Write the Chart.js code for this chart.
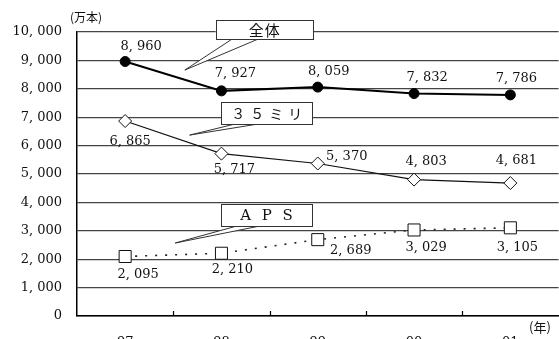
<!DOCTYPE html>
<html>
<head>
<meta charset="utf-8">
<script src="https://cdn.jsdelivr.net/npm/chart.js@4"></script>
<style>
  html, body { margin: 0; padding: 0; background: #fff; overflow: hidden; }
  #wrap { position: relative; width: 559px; height: 339px; overflow: hidden; }
</style>
</head>
<body>
<div id="wrap"><canvas id="chart" width="568" height="350"></canvas></div>
<script>
//<![CDATA[

let years = ['97', '98', '99', '00', '01'];
let totalValues = [8960, 7927, 8059, 7832, 7786];
let mm35Values = [6865, 5717, 5370, 4803, 4681];
let apsValues = [2095, 2210, 2689, 3029, 3105];
let yMin = 0;
let yMax = 10000;
let yStep = 1000;

let serif = '"DejaVu Serif", "Liberation Serif", serif';
let jp = '"Noto Sans CJK JP", sans-serif';

function fmt(v) {
    return v.toLocaleString('en-US').replace(',', ', ');
}

// where each value label sits, relative to its point
let labelOffsets = [
    [[16, -15], [14, -17], [11, -15], [13, -16], [6, -16]],
    [[5, 21], [13, 16], [29, -7], [12, -18], [6, -22]],
    [[13, 18], [11, 16], [33, 11], [12, 18], [7, 20]]
];

// callout boxes: box corners and tip in data units (category index, value)
let callouts = [
    { text: ['全', '体'], font: '15px ' + jp, gap: 16, x0: 0.94, x1: 1.95, y0: 10420, y1: 9750, b0: 1.11, b1: 1.38, tx: 0.62, ty: 8660 },
    { text: ['３', '５', 'ミ', 'リ'], font: '14px ' + jp, gap: 19, x0: 1.0, x1: 1.94, y0: 7535, y1: 6760, b0: 1.14, b1: 1.38, tx: 0.67, ty: 6370 },
    { text: ['A', 'P', 'S'], font: '15px ' + serif, gap: 21, x0: 1.0, x1: 1.94, y0: 3944, y1: 3169, b0: 1.16, b1: 1.40, tx: 0.52, ty: 2570 }
];

let extrasPlugin = {
    id: 'extras',
    afterDatasetsDraw(chart) {
        const ctx = chart.ctx;
        const xs = chart.scales.x;
        const ys = chart.scales.y;
        const area = chart.chartArea;

        // small ticks on the x axis between the years
        ctx.save();
        ctx.strokeStyle = '#000';
        ctx.lineWidth = 1.2;
        for (let i = 0; i < years.length - 1; i++) {
            let px = Math.round(xs.getPixelForValue(i + 0.5)) + 0.5;
            ctx.beginPath();
            ctx.moveTo(px, area.bottom);
            ctx.lineTo(px, area.bottom - 5);
            ctx.stroke();
        }
        ctx.restore();

        // value labels
        ctx.save();
        ctx.fillStyle = '#111';
        ctx.font = '13px ' + serif;
        ctx.textAlign = 'center';
        ctx.textBaseline = 'middle';
        chart.data.datasets.forEach(function(ds, d) {
            const meta = chart.getDatasetMeta(d);
            meta.data.forEach(function(pt, i) {
                const off = labelOffsets[d][i];
                ctx.fillText(fmt(ds.data[i]), pt.x + off[0], pt.y + off[1]);
            });
        });
        ctx.restore();

        // callouts
        callouts.forEach(function(c) {
            const l = xs.getPixelForValue(c.x0);
            const r = xs.getPixelForValue(c.x1);
            const t = ys.getPixelForValue(c.y0);
            const b = ys.getPixelForValue(c.y1);
            const tipX = xs.getPixelForValue(c.tx);
            const tipY = ys.getPixelForValue(c.ty);
            const b0 = xs.getPixelForValue(c.b0);
            const b1 = xs.getPixelForValue(c.b1);
            ctx.save();
            ctx.fillStyle = '#fff';
            ctx.strokeStyle = '#333';
            ctx.lineWidth = 1;
            ctx.beginPath();
            ctx.moveTo(b0, b);
            ctx.lineTo(tipX, tipY);
            ctx.lineTo(b1, b);
            ctx.closePath();
            ctx.fill();
            ctx.beginPath();
            ctx.moveTo(b0, b);
            ctx.lineTo(tipX, tipY);
            ctx.lineTo(b1, b);
            ctx.stroke();
            ctx.fillRect(l, t, r - l, b - t);
            ctx.strokeRect(Math.round(l) + 0.5, Math.round(t) + 0.5, Math.round(r - l), Math.round(b - t));
            ctx.fillStyle = '#111';
            ctx.font = c.font;
            ctx.textAlign = 'center';
            ctx.textBaseline = 'middle';
            const cx = (l + r) / 2;
            const cy = (t + b) / 2 + 1;
            const start = cx - c.gap * (c.text.length - 1) / 2;
            c.text.forEach(function(ch, k) {
                ctx.fillText(ch, start + k * c.gap, cy);
            });
            ctx.restore();
        });

        // unit captions
        ctx.save();
        ctx.fillStyle = '#111';
        ctx.textBaseline = 'middle';
        ctx.textAlign = 'left';
        ctx.font = '12px ' + jp;
        ctx.fillText('(万本)', area.left - 7, area.top - 15);
        ctx.font = '13px ' + jp;
        ctx.fillText('(年)', 529, area.bottom + 11);
        ctx.restore();
    }
};

const ctx = document.getElementById('chart');
const chart = new Chart(ctx, {
    type: 'line',
    data: {
        labels: years,
        datasets: [
            {
                label: '全体',
                data: totalValues,
                borderColor: '#000',
                borderWidth: 2,
                pointStyle: 'circle',
                pointRadius: 5,
                pointBorderWidth: 1,
                pointBackgroundColor: '#000',
                pointBorderColor: '#000',
                tension: 0
            },
            {
                label: '３５ミリ',
                data: mm35Values,
                borderColor: '#111',
                borderWidth: 1.2,
                pointStyle: 'rectRot',
                pointRadius: 6.5,
                pointBackgroundColor: '#fff',
                pointBorderColor: '#111',
                pointBorderWidth: 1,
                tension: 0
            },
            {
                label: 'APS',
                data: apsValues,
                borderColor: '#222',
                borderWidth: 1.6,
                borderDash: [2, 8],
                pointStyle: 'rect',
                pointRadius: 8.5,
                pointBackgroundColor: '#fff',
                pointBorderColor: '#111',
                pointBorderWidth: 1,
                tension: 0
            }
        ]
    },
    options: {
        responsive: false,
        animation: false,
        devicePixelRatio: 1,
        layout: {
            padding: { top: 32, right: 0, bottom: 0, left: 0 }
        },
        plugins: {
            legend: { display: false },
            tooltip: { enabled: false }
        },
        scales: {
            x: {
                type: 'category',
                offset: true,
                grid: { display: false, drawTicks: false, tickLength: 0 },
                border: { display: true, color: '#000', width: 1.5 },
                ticks: {
                    color: '#111',
                    font: { family: serif, size: 13 },
                    padding: 19,
                    maxRotation: 0
                },
                afterFit(scale) {
                    scale.height = 34;
                    scale.paddingLeft = 0;
                    scale.paddingRight = 0;
                }
            },
            y: {
                min: yMin,
                max: yMax,
                grid: { color: '#444', lineWidth: 1.2, drawTicks: false, tickLength: 0 },
                border: { display: true, color: '#000', width: 1.5 },
                ticks: {
                    stepSize: yStep,
                    color: '#111',
                    font: { family: serif, size: 13 },
                    padding: 15,
                    callback: function(v) { return fmt(v); }
                },
                afterFit(scale) { scale.width = 77; }
            }
        }
    },
    plugins: [extrasPlugin]
});

// ]]>
</script>
</body>
</html>
